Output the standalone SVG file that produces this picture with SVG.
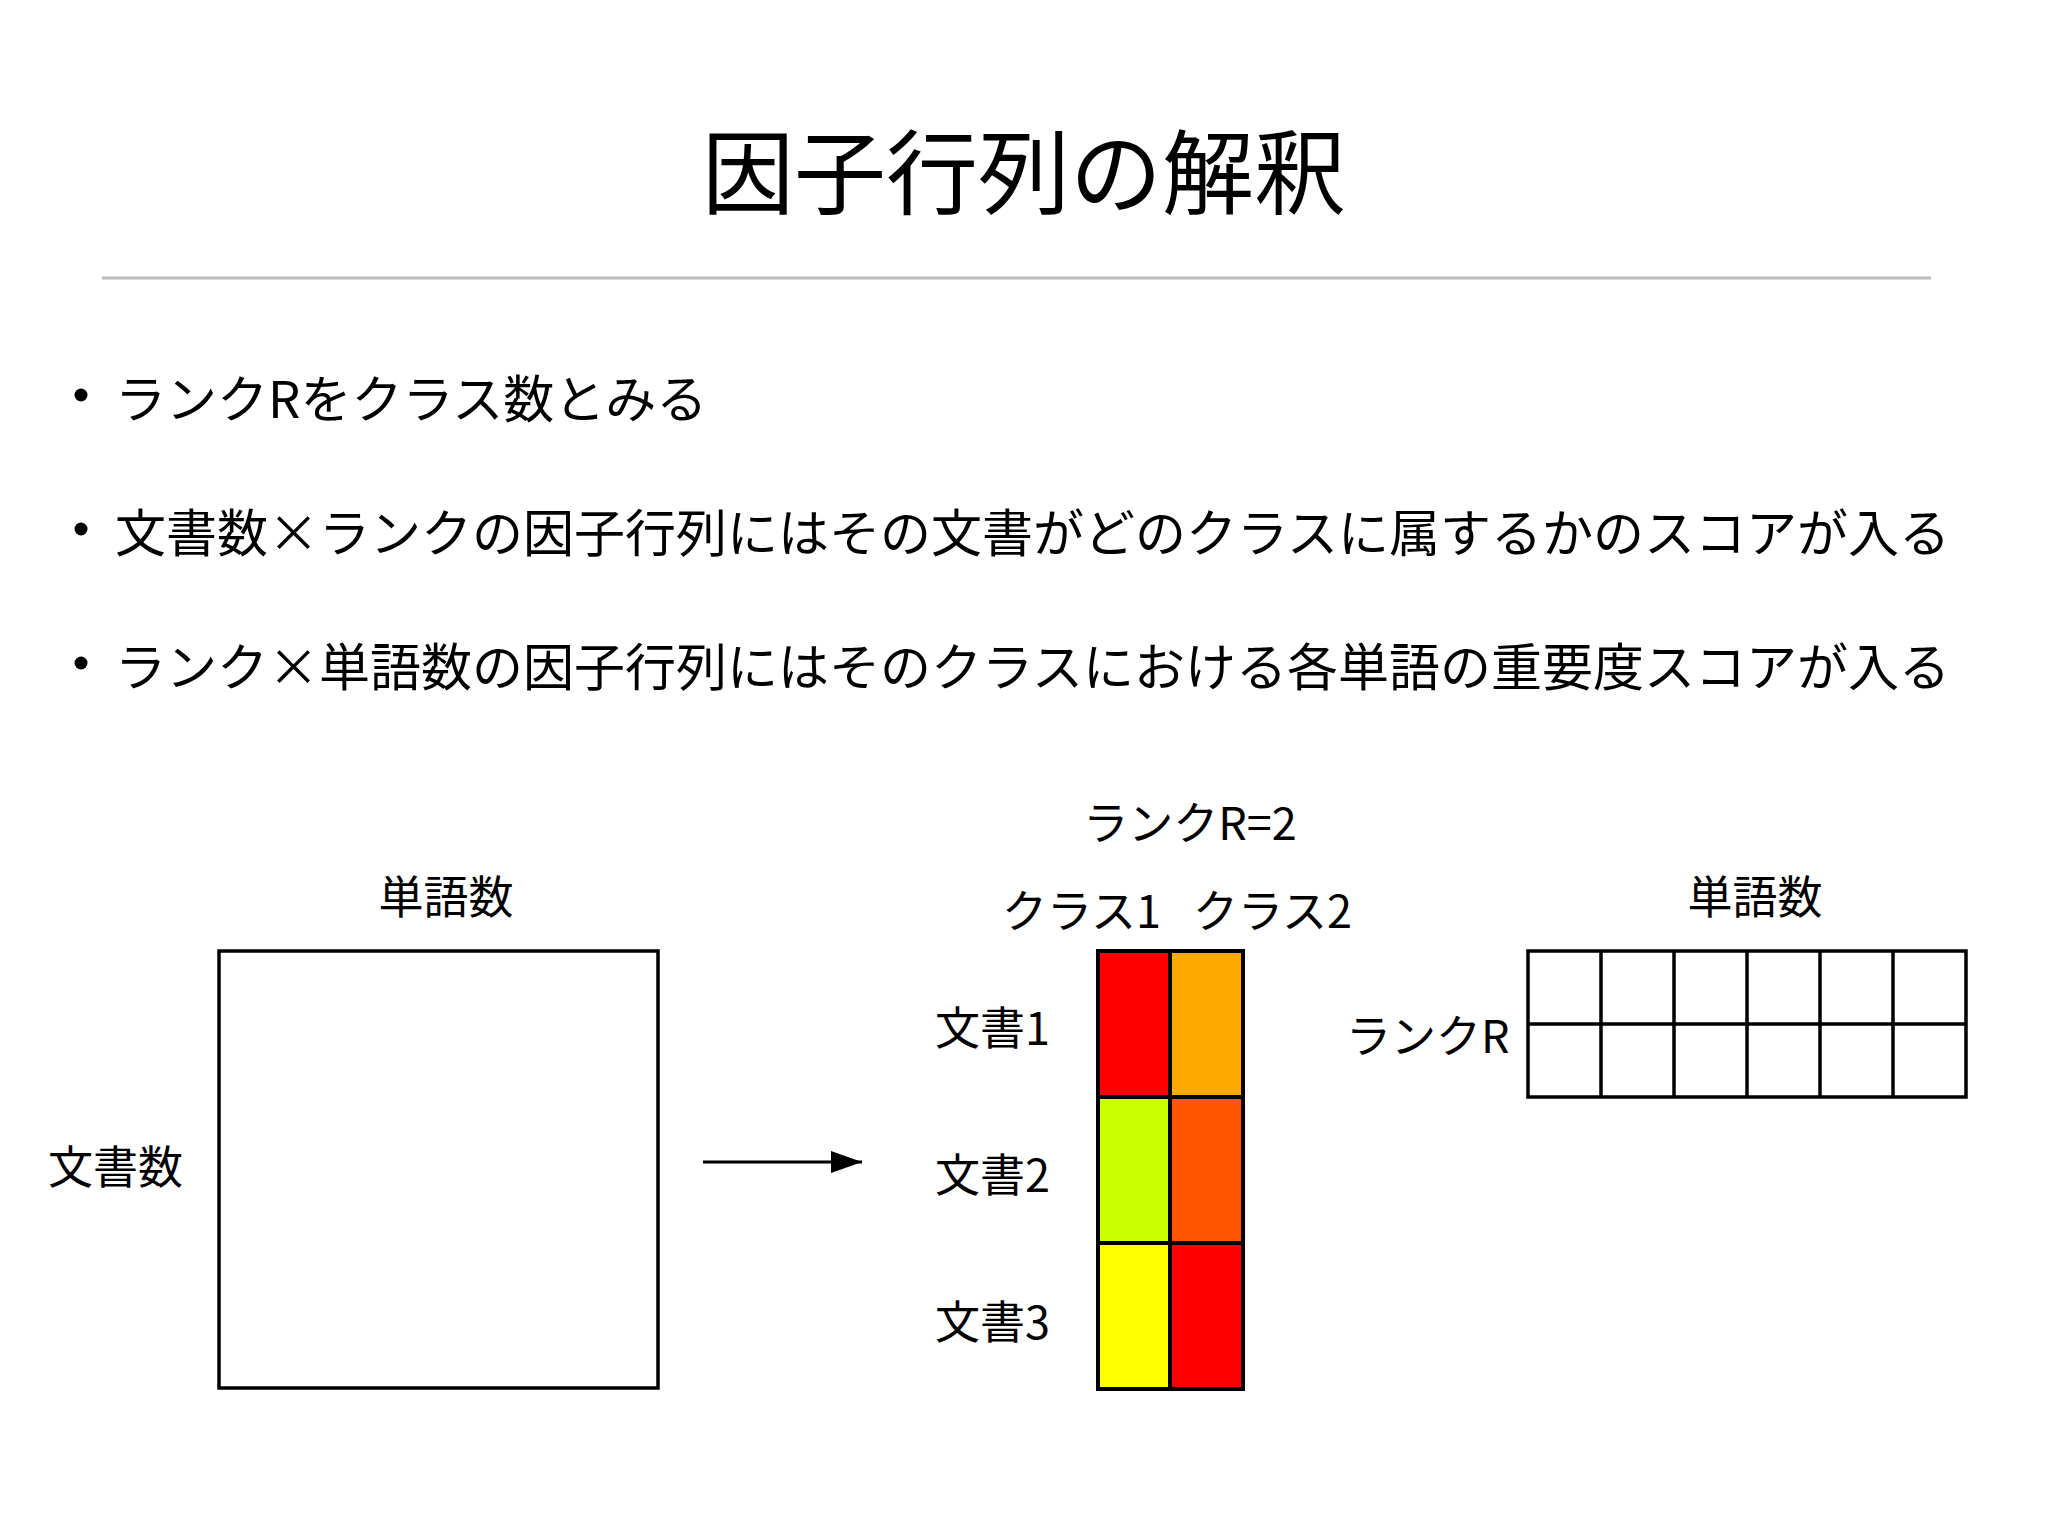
<svg xmlns="http://www.w3.org/2000/svg" width="2048" height="1536" viewBox="0 0 2048 1536">
<style>
text{font-family:"Noto Sans CJK JP","Noto Sans CJK SC",sans-serif;fill:#000}
.title{font-size:92px;text-anchor:middle}
.bul{font-size:51px}
.lbl{font-size:45px}
.mid{text-anchor:middle}
.box{fill:#fff;stroke:#000;stroke-width:3.5}
.cell{stroke:#000;stroke-width:4}
.grid{fill:none;stroke:#000;stroke-width:3.5}
</style>
<defs>
<marker id="ah" markerWidth="31" markerHeight="22" refX="31" refY="11" orient="auto" markerUnits="userSpaceOnUse" viewBox="0 0 31 22">
<path d="M0,0 L31,11 L0,22 Z" fill="#000"/>
</marker>
</defs>
<rect width="2048" height="1536" fill="#fff"/>
<g id="title">
<text class="title" x="1024" y="207">因子行列の解釈</text>
<line x1="102" y1="278" x2="1931" y2="278" stroke="#bbb" stroke-width="3"/>
</g>
<g id="bullets">
<circle cx="81" cy="395" r="6.5"/>
<text class="bul" x="115" y="418">ランクRをクラス数とみる</text>
<circle cx="81" cy="529" r="6.5"/>
<text class="bul" x="115" y="552">文書数×ランクの因子行列にはその文書がどのクラスに属するかのスコアが入る</text>
<circle cx="81" cy="663" r="6.5"/>
<text class="bul" x="115" y="686">ランク×単語数の因子行列にはそのクラスにおける各単語の重要度スコアが入る</text>
</g>
<g id="matrix-full">
<rect class="box" x="219" y="951" width="439" height="437"/>
<text class="lbl mid" x="446" y="914">単語数</text>
<text class="lbl" x="48" y="1184">文書数</text>
</g>
<g id="connectors">
<path d="M703,1162 L862,1162" stroke="#000" stroke-width="3" marker-end="url(#ah)" fill="none"/>
</g>
<g id="matrix-doc-rank">
<text class="lbl mid" x="1190" y="840">ランクR=2</text>
<text class="lbl" x="1002" y="928">クラス1</text>
<text class="lbl" x="1193" y="928">クラス2</text>
<text class="lbl" x="935" y="1045">文書1</text>
<text class="lbl" x="935" y="1192">文書2</text>
<text class="lbl" x="935" y="1339">文書3</text>
<rect class="cell" x="1098" y="951" width="72" height="146" fill="#ff0000"/>
<rect class="cell" x="1170" y="951" width="73" height="146" fill="#ffaa00"/>
<rect class="cell" x="1098" y="1097" width="72" height="146" fill="#ccff00"/>
<rect class="cell" x="1170" y="1097" width="73" height="146" fill="#ff5500"/>
<rect class="cell" x="1098" y="1243" width="72" height="146" fill="#ffff00"/>
<rect class="cell" x="1170" y="1243" width="73" height="146" fill="#ff0000"/>
</g>
<g id="matrix-rank-word">
<text class="lbl mid" x="1755" y="914">単語数</text>
<text class="lbl" x="1346" y="1053">ランクR</text>
<rect class="grid" x="1528" y="951" width="438" height="146"/>
<path class="grid" d="M1528,1024 H1966 M1601,951 V1097 M1674,951 V1097 M1747,951 V1097 M1820,951 V1097 M1893,951 V1097"/>
</g>
</svg>
